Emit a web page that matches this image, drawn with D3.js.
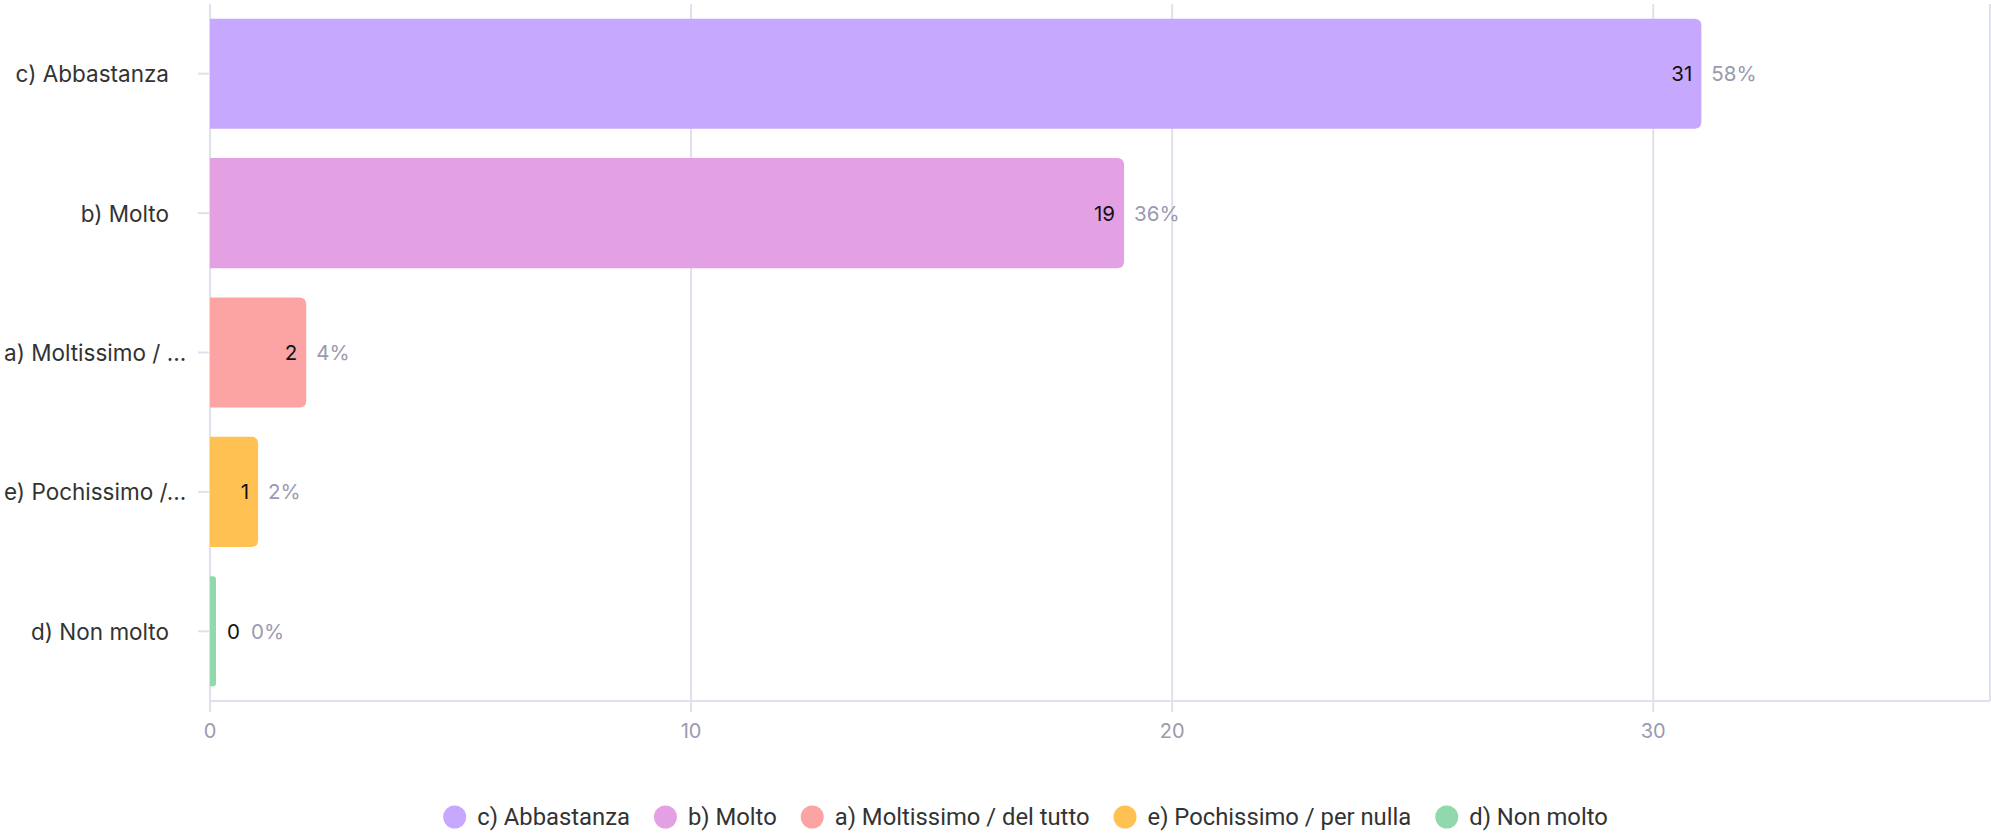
<!DOCTYPE html>
<html>
<head>
<meta charset="utf-8">
<script src="https://cdn.jsdelivr.net/npm/d3@7"></script>
<style>
  body { margin: 0; background: #fff; }
  svg { display: block; }
  .grid line { stroke: #e1e1ee; stroke-width: 2; }
  .ylab { font-family: Inter, "Noto Sans", sans-serif; font-size: 22.5px; fill: #333; }
  .xtick { font-family: Inter, "Noto Sans", sans-serif; font-size: 20px; fill: #9a9ab0; }
  .val { font-family: Inter, "Noto Sans", sans-serif; font-size: 20.5px; fill: #111; }
  .pct { font-family: Inter, "Noto Sans", sans-serif; font-size: 20.5px; fill: #9a9ab0; }
  .leg { font-family: Roboto, sans-serif; font-size: 23.8px; fill: #333; }
</style>
</head>
<body>
<svg id="chart" width="1991" height="834"></svg>
<script>
// データ
var categories = ['c) Abbastanza', 'b) Molto', 'a) Moltissimo / del tutto', 'e) Pochissimo / per nulla', 'd) Non molto'];
var counts = [31, 19, 2, 1, 0];
var percents = ['58%', '36%', '4%', '2%', '0%'];
var colors = ['#c6a9fe', '#e3a0e3', '#fca3a3', '#ffc152', '#91d9ac'];
var xTicks = [0, 10, 20, 30];
var xMax = 37;

var svg = d3.select('#chart');
var margin = { top: 4, right: 1, bottom: 133, left: 210 };
var width = 1991 - margin.left - margin.right;
var height = 834 - margin.top - margin.bottom;

var g = svg.append('g').attr('transform', 'translate(' + margin.left + ',' + margin.top + ')');

var x = d3.scaleLinear().domain([0, xMax]).range([0, width]);
var y = d3.scaleBand().domain(categories).range([0, height]).paddingInner(0.21).paddingOuter(0.105);

// グリッド線
var grid = g.append('g').classed('grid', true);
grid.selectAll('line.v').data(xTicks).enter().append('line')
  .attr('x1', function(d) { return x(d); })
  .attr('x2', function(d) { return x(d); })
  .attr('y1', 0)
  .attr('y2', height + 11);
grid.append('line').attr('x1', width).attr('x2', width).attr('y1', 0).attr('y2', height);
grid.append('line').attr('x1', 0).attr('x2', width).attr('y1', height).attr('y2', height);
grid.selectAll('line.t').data(categories).enter().append('line')
  .attr('x1', -12).attr('x2', 0)
  .attr('y1', function(d) { return y(d) + y.bandwidth() / 2; })
  .attr('y2', function(d) { return y(d) + y.bandwidth() / 2; });

// x軸ラベル
g.selectAll('text.xtick').data(xTicks).enter().append('text')
  .classed('xtick', true)
  .attr('x', function(d) { return x(d); })
  .attr('y', height + 30)
  .attr('text-anchor', 'middle')
  .attr('dominant-baseline', 'central')
  .text(function(d) { return d; });

// 右側だけ角丸のバー
function barPath(w, h, r) {
  r = Math.min(r, w / 2);
  return 'M0,0H' + (w - r) + 'Q' + w + ',0 ' + w + ',' + r +
    'V' + (h - r) + 'Q' + w + ',' + h + ' ' + (w - r) + ',' + h + 'H0Z';
}

var bars = g.selectAll('g.bar').data(categories).enter().append('g')
  .attr('transform', function(d) { return 'translate(0,' + y(d) + ')'; });

bars.append('path')
  .attr('fill', function(d, i) { return colors[i]; })
  .attr('d', function(d, i) { return barPath(Math.max(x(counts[i]), 6), y.bandwidth(), 7); });

bars.append('text')
  .classed('val', true)
  .attr('x', function(d, i) { return counts[i] > 0 ? x(counts[i]) - 9 : 17; })
  .attr('y', y.bandwidth() / 2)
  .attr('text-anchor', function(d, i) { return counts[i] > 0 ? 'end' : 'start'; })
  .attr('dominant-baseline', 'central')
  .text(function(d, i) { return counts[i]; });

bars.append('text')
  .classed('pct', true)
  .attr('x', function(d, i) { return counts[i] > 0 ? x(counts[i]) + 10 : 41; })
  .attr('y', y.bandwidth() / 2)
  .attr('dominant-baseline', 'central')
  .text(function(d, i) { return percents[i]; });

// y軸ラベル（長いものは省略）
var labelRight = -41;
var maxLabel = 165;
var maxCut = 186;
g.selectAll('text.ylab').data(categories).enter().append('text')
  .classed('ylab', true)
  .attr('y', function(d) { return y(d) + y.bandwidth() / 2; })
  .attr('dominant-baseline', 'central')
  .each(function(d) {
    var t = d3.select(this).text(d);
    if (this.getComputedTextLength() <= maxLabel) {
      t.attr('x', labelRight).attr('text-anchor', 'end');
      return;
    }
    var s = d;
    while (s.length > 1) {
      s = s.slice(0, -1);
      t.text(s + '...');
      if (this.getComputedTextLength() <= maxCut) break;
    }
    t.attr('x', -margin.left + 4).attr('text-anchor', 'start');
  });

// 凡例
var legR = 11.5;
var legGap = 24;
var legend = svg.append('g');
var items = legend.selectAll('g').data(categories).enter().append('g');
items.append('circle').attr('r', legR).attr('cy', 0)
  .attr('fill', function(d, i) { return colors[i]; });
items.append('text').classed('leg', true)
  .attr('x', 22.5).attr('dominant-baseline', 'central')
  .text(function(d) { return d; });
var cx = 0;
items.each(function() {
  var w = this.getBBox().width;
  d3.select(this).attr('transform', 'translate(' + (cx + legR) + ',0)');
  cx += w + legGap;
});
var lw = cx - legGap;
legend.attr('transform', 'translate(' + ((1991 - lw) / 2 + 30) + ',817)');
</script>
</body>
</html>
